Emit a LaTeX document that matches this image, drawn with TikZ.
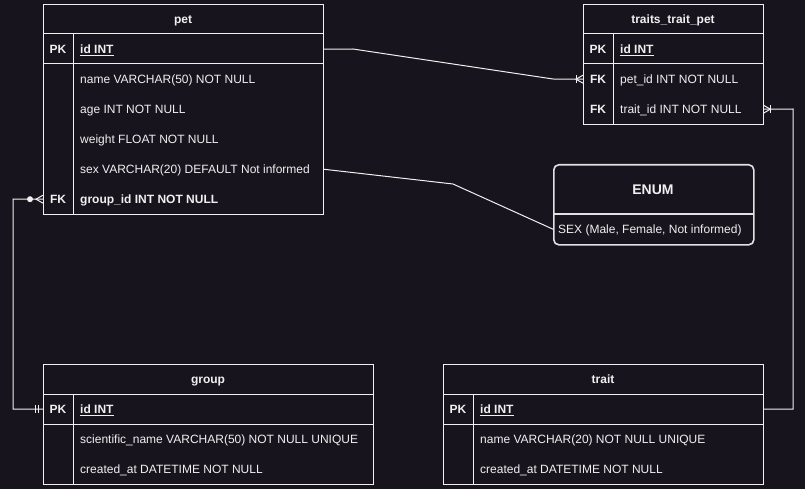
\documentclass[tikz,border=0pt]{standalone}
\usepackage{fontspec}
\setmainfont{Liberation Sans}
\definecolor{bgc}{RGB}{24,20,29}
\definecolor{fg}{RGB}{240,240,240}
\definecolor{fgb}{RGB}{225,225,225}
\tikzset{
  tbl/.style={draw=fg, fill=bgc, line width=1pt, inner sep=0pt, anchor=north west},
  rowbox/.style={inner sep=0pt, anchor=north west, minimum height=30pt},
  ttl/.style={text=fg, font=\fontsize{12}{14}\selectfont\bfseries, inner sep=0pt, anchor=base},
  keyt/.style={text=fg, font=\fontsize{12}{14}\selectfont\bfseries, inner sep=0pt, anchor=base},
  fld/.style={text=fg, font=\fontsize{12}{14}\selectfont, inner sep=0pt, anchor=base west},
  conn/.style={draw=fg, line width=1pt},
  sep/.style={draw=fg, line width=1pt},
}
% name, x, ytop, width, key, text
\newcommand\erow[6]{%
  \node[rowbox, minimum width=#4pt] (#1) at (#2,#3) {};
  \node[keyt, xshift=15pt, yshift=-4.3pt] (#1-k) at (#1.west) {#5};
  \node[fld, xshift=37pt, yshift=-4.3pt] (#1-t) at (#1.west) {#6};
}
\begin{document}
\begin{tikzpicture}[x=1pt,y=-1pt]
\fill[bgc] (0,0) rectangle (805,489);
\useasboundingbox (0,0) rectangle (805,489);

% ---------- pet ----------
\node[tbl, minimum width=280pt, minimum height=210pt] (pet) at (43,4) {};
\node[ttl] (pet-title) at (183,23.3) {pet};
\draw[sep] (43,34) -- (323,34);
\draw[sep] (43,64) -- (323,64);
\draw[sep] (73,34) -- (73,214);
\erow{petid}{43}{34}{280}{PK}{\textbf{\underline{id INT}}}
\erow{petname}{43}{64}{280}{}{name VARCHAR(50) NOT NULL}
\erow{petage}{43}{94}{280}{}{age INT NOT NULL}
\erow{petweight}{43}{124}{280}{}{weight FLOAT NOT NULL}
\erow{petsex}{43}{154}{280}{}{sex VARCHAR(20) DEFAULT Not informed}
\erow{petgroup}{43}{184}{280}{FK}{\textbf{group\_id INT NOT NULL}}

% ---------- traits_trait_pet ----------
\node[tbl, minimum width=180pt, minimum height=120pt] (ttp) at (583,4) {};
\node[ttl] (ttp-title) at (673,23.3) {traits\_trait\_pet};
\draw[sep] (583,34) -- (763,34);
\draw[sep] (583,64) -- (763,64);
\draw[sep] (613,34) -- (613,124);
\erow{tpid}{583}{34}{180}{PK}{\textbf{\underline{id INT}}}
\erow{tppet}{583}{64}{180}{FK}{pet\_id INT NOT NULL}
\erow{tptrait}{583}{94}{180}{FK}{trait\_id INT NOT NULL}

% ---------- ENUM ----------
\node[draw=fgb, fill=bgc, line width=1.6pt, rounded corners=5pt, inner sep=0pt,
      anchor=north west, minimum width=200pt, minimum height=80pt] (enum) at (553,164) {};
\draw[draw=fgb, line width=1.6pt] (553,214) -- (753,214);
\node[ttl, font=\fontsize{14}{16}\selectfont\bfseries] (enum-title) at (653,194) {ENUM};
\node[rowbox, minimum width=200pt] (enumrow) at (553,214) {};
\node[fld, xshift=5pt, yshift=-4.3pt] (enumrow-t) at (enumrow.west) {SEX (Male, Female, Not informed)};

% ---------- group ----------
\node[tbl, minimum width=330pt, minimum height=120pt] (grp) at (43,364) {};
\node[ttl] (grp-title) at (208,383.3) {group};
\draw[sep] (43,394) -- (373,394);
\draw[sep] (43,424) -- (373,424);
\draw[sep] (73,394) -- (73,484);
\erow{grid}{43}{394}{330}{PK}{\textbf{\underline{id INT}}}
\erow{grsci}{43}{424}{330}{}{scientific\_name VARCHAR(50) NOT NULL UNIQUE}
\erow{grcre}{43}{454}{330}{}{created\_at DATETIME NOT NULL}

% ---------- trait ----------
\node[tbl, minimum width=320pt, minimum height=120pt] (trt) at (443,364) {};
\node[ttl] (trt-title) at (603,383.3) {trait};
\draw[sep] (443,394) -- (763,394);
\draw[sep] (443,424) -- (763,424);
\draw[sep] (473,394) -- (473,484);
\erow{trid}{443}{394}{320}{PK}{\textbf{\underline{id INT}}}
\erow{trname}{443}{424}{320}{}{name VARCHAR(20) NOT NULL UNIQUE}
\erow{trcre}{443}{454}{320}{}{created\_at DATETIME NOT NULL}

% ---------- connectors ----------
\coordinate (c1a) at (353,49);
\coordinate (c1b) at (553,79);
\draw[conn] (petid.east) -- (c1a) -- (c1b) -- (tppet.west);
% one or many at tppet
\draw[conn] ([xshift=-7pt,yshift=4pt]tppet.west) -- ([xshift=-7pt,yshift=-4pt]tppet.west);
\draw[conn] ([yshift=4pt]tppet.west) -- ([xshift=-7pt]tppet.west) -- ([yshift=-4pt]tppet.west);

\coordinate (c2a) at (453,184);
\draw[conn] (petsex.east) -- (c2a) -- (enumrow.west);

\coordinate (c3a) at (13,199);
\coordinate (c3b) at (13,409);
\draw[conn] (petgroup.west) -- (c3a) -- (c3b) -- (grid.west);
% zero or many at pet
\draw[conn] ([yshift=4pt]petgroup.west) -- ([xshift=-7pt]petgroup.west) -- ([yshift=-4pt]petgroup.west);
\fill[fg] ([xshift=-13pt]petgroup.west) circle (3pt);
% mandatory one at group
\draw[conn] ([xshift=-8pt,yshift=4pt]grid.west) -- ([xshift=-8pt,yshift=-4pt]grid.west);
\draw[conn] ([xshift=-5pt,yshift=4pt]grid.west) -- ([xshift=-5pt,yshift=-4pt]grid.west);

\coordinate (c4a) at (793,409);
\coordinate (c4b) at (793,109);
\draw[conn] (trid.east) -- (c4a) -- (c4b) -- (tptrait.east);
% one or many at tptrait
\draw[conn] ([xshift=7pt,yshift=4pt]tptrait.east) -- ([xshift=7pt,yshift=-4pt]tptrait.east);
\draw[conn] ([yshift=4pt]tptrait.east) -- ([xshift=7pt]tptrait.east) -- ([yshift=-4pt]tptrait.east);
\end{tikzpicture}
\end{document}
